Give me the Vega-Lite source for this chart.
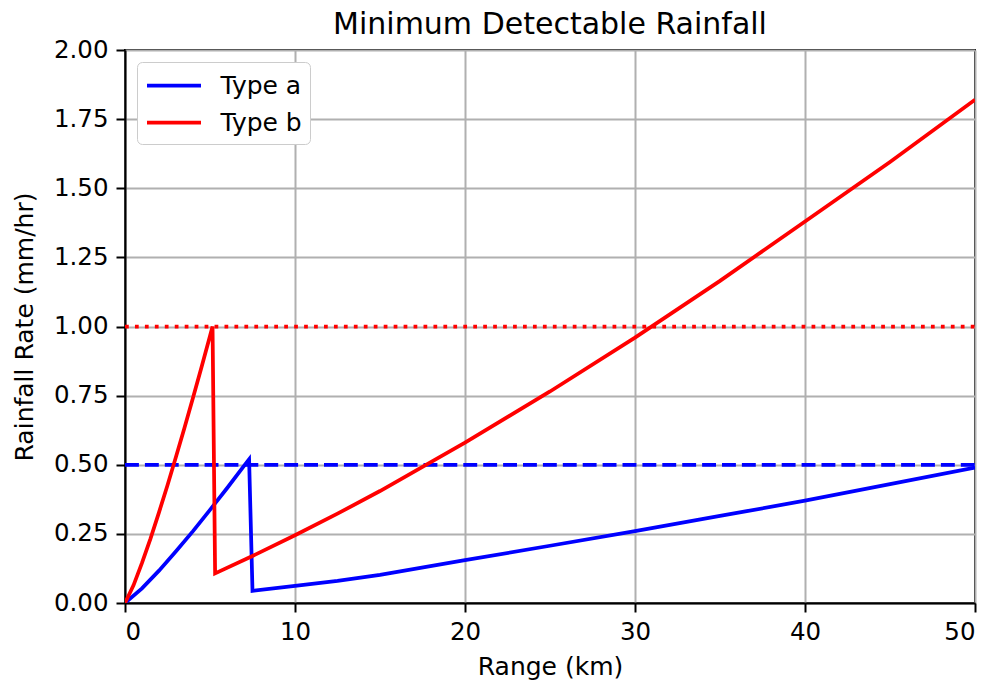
{
  "$schema": "https://vega.github.io/schema/vega-lite/v6.json",
  "width": 850,
  "height": 553,
  "autosize": {"type": "none"},
  "padding": {"left": 125, "top": 50, "right": 17, "bottom": 78},
  "background": "white",
  "config": {
    "font": "DejaVu Sans",
    "view": {"stroke": "black", "strokeWidth": 2},
    "axis": {
      "labelFont": "DejaVu Sans", "titleFont": "DejaVu Sans",
      "labelFontSize": 24.5, "titleFontSize": 25, "labelColor": "black", "titleColor": "black",
      "titleFontWeight": "normal", "domainColor": "black", "domainWidth": 2,
      "tickColor": "black", "tickSize": 9, "tickWidth": 2,
      "gridColor": "#b0b0b0", "gridWidth": 2, "labelPadding": 8
    }
  },
  "title": {"text": "Minimum Detectable Rainfall", "fontSize": 30, "font": "DejaVu Sans", "fontWeight": "normal", "color": "black", "offset": 14, "dy": 17},
  "layer": [
    {
      "data": {"values": [{"x": 0, "y": 1.0}, {"x": 50, "y": 1.0}]},
      "mark": {"type": "line", "color": "red", "strokeWidth": 3.75, "strokeDash": [3.75, 6.2], "strokeCap": "butt", "clip": true},
      "encoding": {
        "x": {"field": "x", "type": "quantitative"},
        "y": {"field": "y", "type": "quantitative"}
      }
    },
    {
      "data": {"values": [{"x": 0, "y": 0.5}, {"x": 50, "y": 0.5}]},
      "mark": {"type": "line", "color": "blue", "strokeWidth": 3.75, "strokeDash": [13.9, 6], "strokeCap": "butt", "clip": true},
      "encoding": {
        "x": {"field": "x", "type": "quantitative"},
        "y": {"field": "y", "type": "quantitative"}
      }
    },
    {
      "data": {"values": [
        {"series": "Type a", "x": 0, "y": 0},
        {"series": "Type a", "x": 1, "y": 0.053},
        {"series": "Type a", "x": 2, "y": 0.117},
        {"series": "Type a", "x": 3, "y": 0.187},
        {"series": "Type a", "x": 4, "y": 0.26},
        {"series": "Type a", "x": 5, "y": 0.337},
        {"series": "Type a", "x": 6, "y": 0.415},
        {"series": "Type a", "x": 7, "y": 0.496},
        {"series": "Type a", "x": 7.3, "y": 0.52},
        {"series": "Type a", "x": 7.5, "y": 0.044},
        {"series": "Type a", "x": 10, "y": 0.062},
        {"series": "Type a", "x": 12.5, "y": 0.08},
        {"series": "Type a", "x": 15, "y": 0.102},
        {"series": "Type a", "x": 20, "y": 0.155},
        {"series": "Type a", "x": 25, "y": 0.207},
        {"series": "Type a", "x": 30, "y": 0.26},
        {"series": "Type a", "x": 35, "y": 0.315},
        {"series": "Type a", "x": 40, "y": 0.37},
        {"series": "Type a", "x": 45, "y": 0.43},
        {"series": "Type a", "x": 50, "y": 0.49},
        {"series": "Type b", "x": 0, "y": 0},
        {"series": "Type b", "x": 0.5, "y": 0.064},
        {"series": "Type b", "x": 1, "y": 0.145},
        {"series": "Type b", "x": 1.5, "y": 0.233},
        {"series": "Type b", "x": 2, "y": 0.328},
        {"series": "Type b", "x": 2.5, "y": 0.426},
        {"series": "Type b", "x": 3, "y": 0.529},
        {"series": "Type b", "x": 3.5, "y": 0.634},
        {"series": "Type b", "x": 4, "y": 0.742},
        {"series": "Type b", "x": 4.5, "y": 0.853},
        {"series": "Type b", "x": 5, "y": 0.966},
        {"series": "Type b", "x": 5.15, "y": 1.0},
        {"series": "Type b", "x": 5.3, "y": 0.107},
        {"series": "Type b", "x": 7.5, "y": 0.17},
        {"series": "Type b", "x": 10, "y": 0.245},
        {"series": "Type b", "x": 12.5, "y": 0.323},
        {"series": "Type b", "x": 15, "y": 0.405},
        {"series": "Type b", "x": 20, "y": 0.58},
        {"series": "Type b", "x": 25, "y": 0.765},
        {"series": "Type b", "x": 30, "y": 0.96},
        {"series": "Type b", "x": 35, "y": 1.165},
        {"series": "Type b", "x": 40, "y": 1.38},
        {"series": "Type b", "x": 45, "y": 1.595},
        {"series": "Type b", "x": 50, "y": 1.82}
      ]},
      "mark": {"type": "line", "strokeWidth": 3.75, "clip": true},
      "encoding": {
        "x": {"field": "x", "type": "quantitative", "title": "Range (km)",
              "scale": {"domain": [0, 50], "nice": false, "zero": false},
              "axis": {"values": [0, 10, 20, 30, 40, 50], "grid": true, "titlePadding": 11}},
        "y": {"field": "y", "type": "quantitative", "title": "Rainfall Rate (mm/hr)",
              "scale": {"domain": [0, 2], "nice": false},
              "axis": {"values": [0, 0.25, 0.5, 0.75, 1, 1.25, 1.5, 1.75, 2], "format": ".2f", "grid": true, "titlePadding": 16}},
        "color": {"field": "series", "type": "nominal",
                  "scale": {"domain": ["Type a", "Type b"], "range": ["blue", "red"]},
                  "legend": {"orient": "top-left", "title": null, "labelFontSize": 25, "labelFont": "DejaVu Sans", "labelColor": "black",
                             "symbolType": "M-2,0H2", "symbolSize": 729, "symbolStrokeWidth": 3.75, "symbolOffset": 13.5,
                             "fillColor": "white", "strokeColor": "#cccccc", "cornerRadius": 5, "padding": 8,
                             "offset": 12, "rowPadding": 8, "labelOffset": 31}}
      }
    }
  ]
}
